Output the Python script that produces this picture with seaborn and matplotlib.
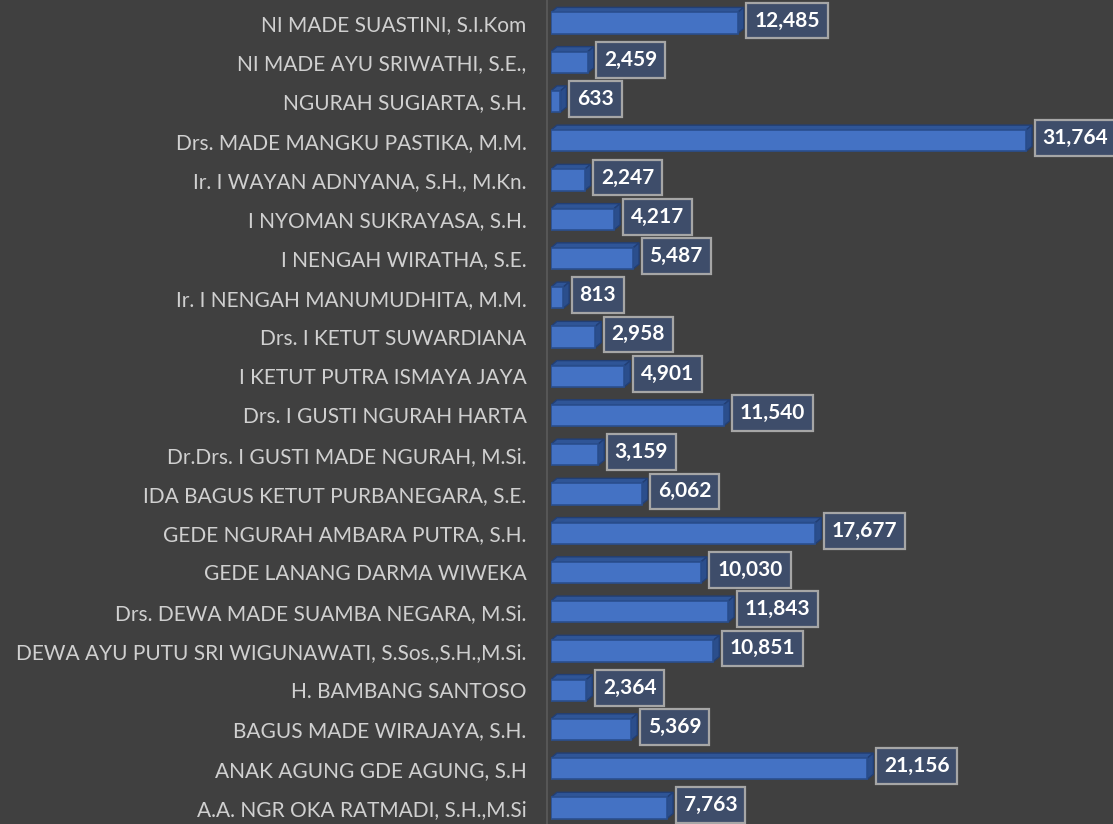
import matplotlib
matplotlib.use("Agg")
import matplotlib.pyplot as plt
import seaborn as sns
import pandas as pd
from matplotlib.patches import Polygon

names = [
    "NI MADE SUASTINI, S.I.Kom",
    "NI MADE AYU SRIWATHI, S.E.,",
    "NGURAH SUGIARTA, S.H.",
    "Drs. MADE MANGKU PASTIKA, M.M.",
    "Ir. I WAYAN ADNYANA, S.H., M.Kn.",
    "I NYOMAN SUKRAYASA, S.H.",
    "I NENGAH WIRATHA, S.E.",
    "Ir. I NENGAH MANUMUDHITA, M.M.",
    "Drs. I KETUT SUWARDIANA",
    "I KETUT PUTRA ISMAYA JAYA",
    "Drs. I GUSTI NGURAH HARTA",
    "Dr.Drs. I GUSTI MADE NGURAH, M.Si.",
    "IDA BAGUS KETUT PURBANEGARA, S.E.",
    "GEDE NGURAH AMBARA PUTRA, S.H.",
    "GEDE LANANG DARMA WIWEKA",
    "Drs. DEWA MADE SUAMBA NEGARA, M.Si.",
    "DEWA AYU PUTU SRI WIGUNAWATI, S.Sos.,S.H.,M.Si.",
    "H. BAMBANG SANTOSO",
    "BAGUS MADE WIRAJAYA, S.H.",
    "ANAK AGUNG GDE AGUNG, S.H",
    "A.A. NGR OKA RATMADI, S.H.,M.Si",
]
votes = [12485, 2459, 633, 31764, 2247, 4217, 5487, 813, 2958, 4901, 11540,
         3159, 6062, 17677, 10030, 11843, 10851, 2364, 5369, 21156, 7763]

df = pd.DataFrame({"name": names, "votes": votes})

BG = "#404040"
sns.set_theme(style="dark")
plt.rcParams["font.family"] = ["Lato", "DejaVu Sans"]

W, H = 1113, 824
fig = plt.figure(figsize=(W / 100, H / 100), dpi=100, facecolor=BG)
ax_left_px, ax_w_px = 551, 562
ax = fig.add_axes([ax_left_px / W, 0, ax_w_px / W, 1])
ax.set_facecolor(BG)

sns.barplot(data=df, y="name", x="votes", orient="h", ax=ax, order=names,
            color="#4472C4", width=0.54, edgecolor="#2A4F8F", linewidth=1.2,
            saturation=1, zorder=3)

xmax = 31764 * ax_w_px / 475.0
ax.set_xlim(0, xmax)
ax.set_ylim(20.41, -0.586)

px_x = xmax / ax_w_px          # data units per pixel (x)
px_y = 1 / 39.25               # data units per pixel (y)
dx = 6 * px_x
dy = 5 * px_y

for p, v in zip(ax.patches, votes):
    x0 = p.get_x()
    y0 = p.get_y()
    h = p.get_height()
    w = p.get_width()
    top_y = y0
    top = Polygon([(x0, top_y), (x0 + dx, top_y - dy), (x0 + w + dx, top_y - dy), (x0 + w, top_y)],
                  closed=True, facecolor="#2F5597", edgecolor="#223F75", lw=1.0, zorder=2.5)
    ax.add_patch(top)
    side = Polygon([(x0 + w, top_y), (x0 + w + dx, top_y - dy), (x0 + w + dx, top_y + h - dy), (x0 + w, top_y + h)],
                   closed=True, facecolor="#2B4E8C", edgecolor="#223F75", lw=1.0, zorder=2.5)
    ax.add_patch(side)
    yc = y0 + h / 2 - dy / 2
    ax.annotate(f"{v:,}", xy=(x0 + w + dx, yc), xytext=(7.5, 0), textcoords="offset points",
                ha="left", va="center", color="white", fontsize=15, fontweight="bold",
                bbox=dict(boxstyle="square,pad=0.38", facecolor="#3E4D6A", edgecolor="#A6A6A6", lw=1.6),
                zorder=5, annotation_clip=False)

ax.set_xticks([])
ax.set_xlabel("")
ax.set_ylabel("")
ax.tick_params(axis="y", length=0, pad=17.5, labelsize=15, labelcolor="#D0D0D0")
for s in ["top", "right", "bottom", "left"]:
    ax.spines[s].set_visible(False)
ax.axvline(-4 * px_x, color="#565656", lw=1.5, zorder=1, clip_on=False)
ax.grid(False)

fig.savefig("out.png", dpi=100, facecolor=BG)
